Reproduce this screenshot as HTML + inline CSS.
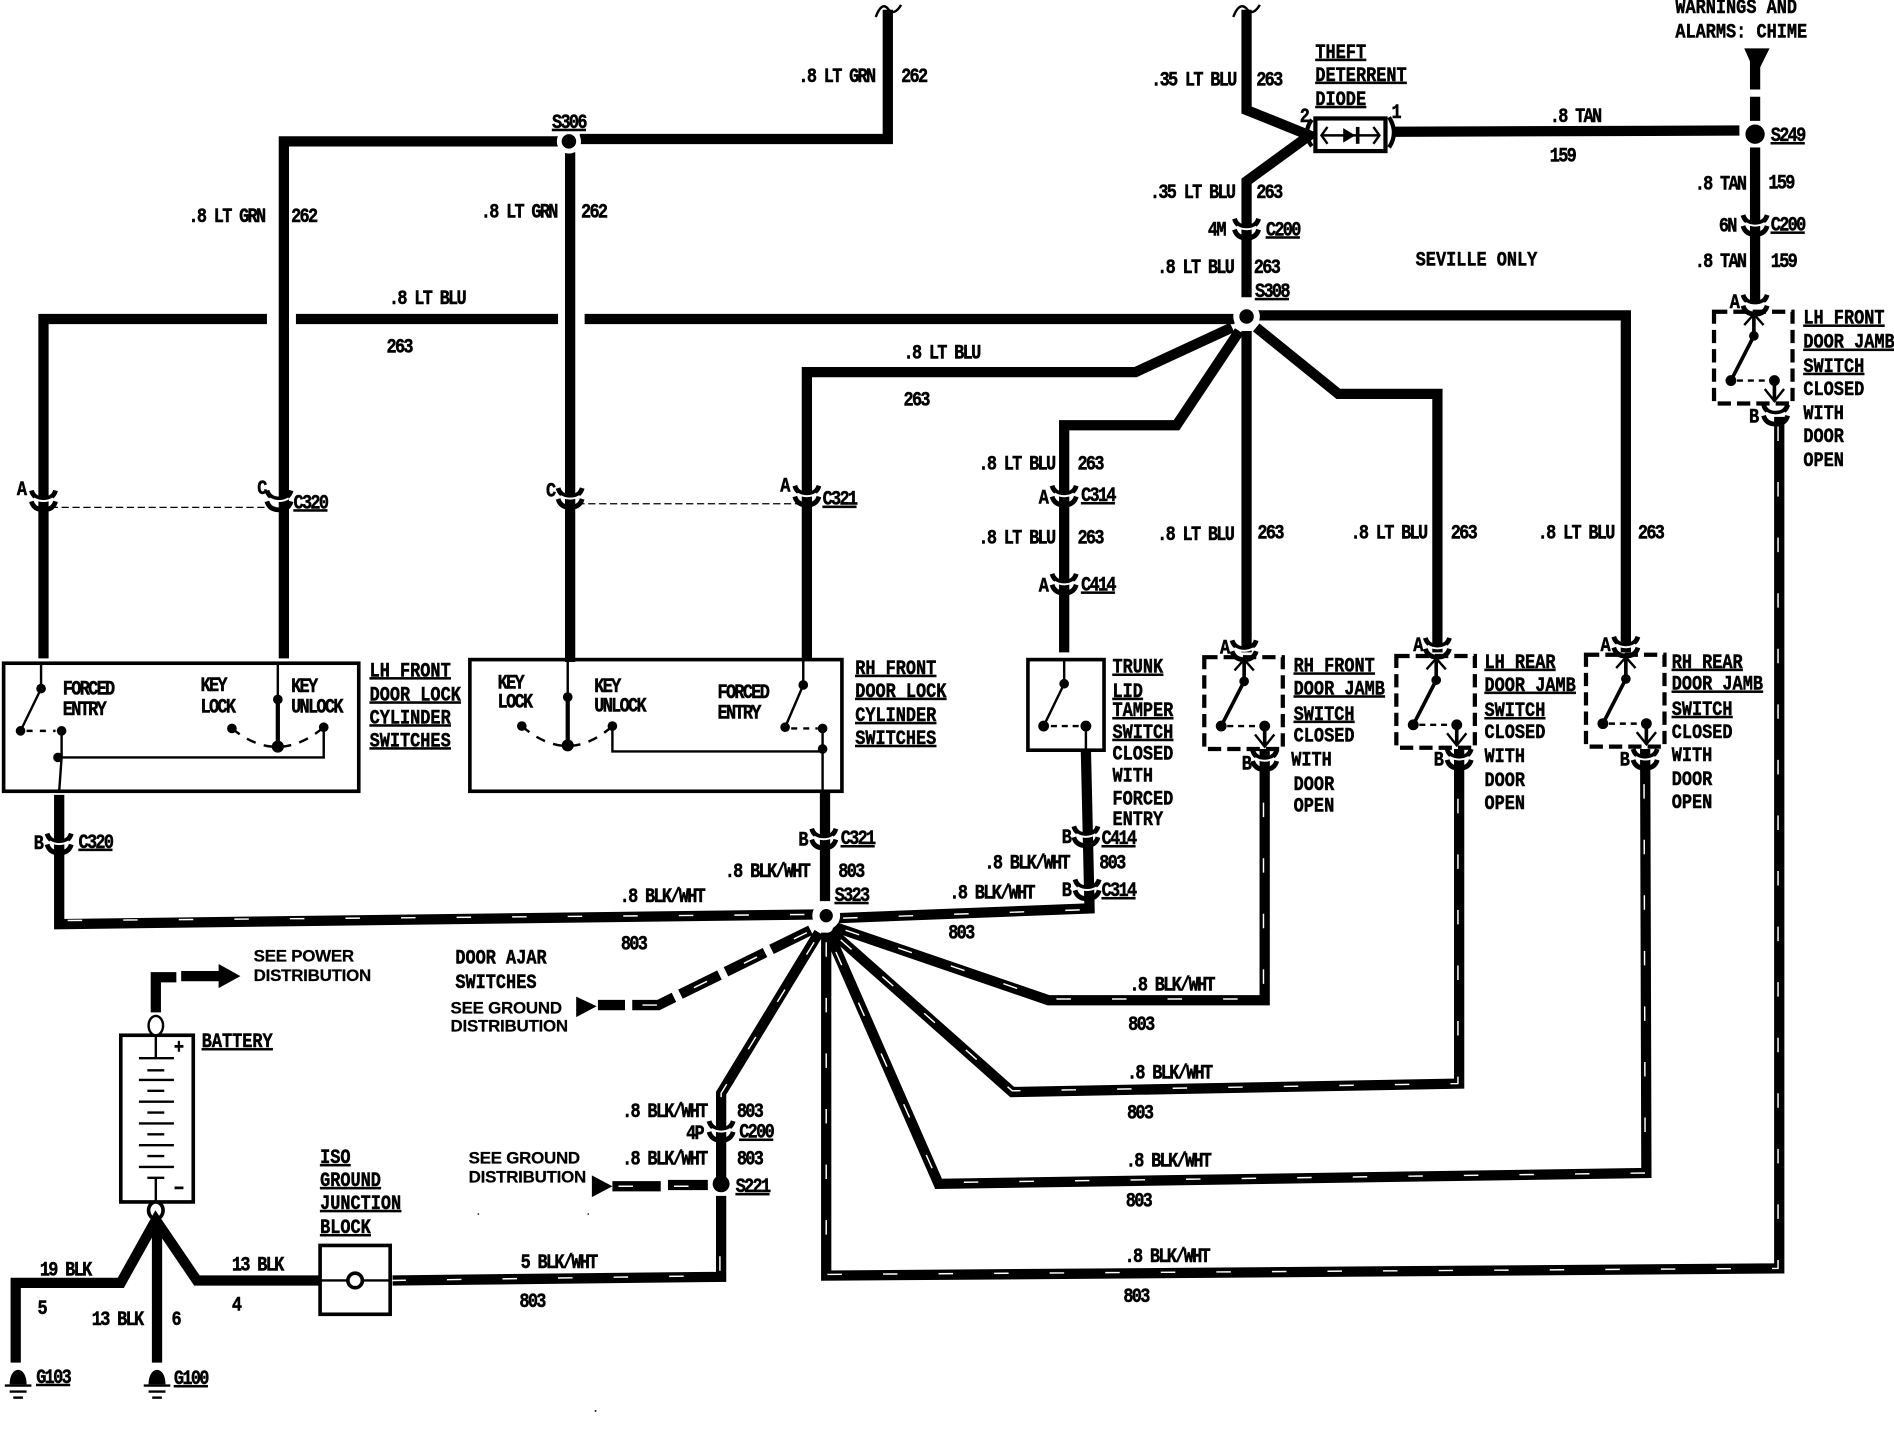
<!DOCTYPE html>
<html><head><meta charset="utf-8"><title>Wiring diagram</title>
<style>
html,body{margin:0;padding:0;background:#fff}
svg{display:block}
text{font-family:"Liberation Mono",monospace;font-weight:700;font-size:14px;letter-spacing:-1.4px;fill:#000;stroke:#000;stroke-width:.35;transform-box:fill-box;transform-origin:0 100%;transform:translateY(1.7px) scaleY(1.2)}
.L{letter-spacing:0}
.S{font-family:"Liberation Sans",sans-serif;letter-spacing:-.2px;font-size:14px;transform:none;stroke-width:.2}
.u{text-decoration:underline;text-underline-offset:2.5px;text-decoration-thickness:1.6px;text-decoration-skip-ink:none}
.w{fill:none;stroke:#000;stroke-width:8.5;stroke-linejoin:miter}
.t{fill:none;stroke:#fff;stroke-width:1.2;stroke-dasharray:12 34}
.n{fill:none;stroke:#000;stroke-width:2}
.b{fill:none;stroke:#000;stroke-width:3.5}
.d{fill:none;stroke:#000;stroke-width:2.5;stroke-dasharray:6 6}
</style></head><body>
<svg xmlns="http://www.w3.org/2000/svg" width="1894" height="1440" viewBox="0 0 1568 1192">
<defs>
<g id="c"><path d="M-10,-8 Q-8,-1 0,-1 Q8,-1 10,-8" fill="none" stroke="#000" stroke-width="4"/><path d="M-10,1 Q-8,8 0,8 Q8,8 10,1" fill="none" stroke="#000" stroke-width="4"/><path d="M-8,-1.5 Q0,3 8,-1.5" fill="none" stroke="#fff" stroke-width="1.6"/></g>
<g id="sw">
<rect x="0" y="0" width="65" height="76" fill="#fff" stroke="#000" stroke-width="3.5" stroke-dasharray="11 5"/>
<path d="M33,1V20L14,57M50,57V74" fill="none" stroke="#000" stroke-width="3"/>
<path class="n" d="M25,11L33,2L41,11M42,64L50,74L58,64"/>
<path d="M19,57H44" fill="none" stroke="#000" stroke-width="2" stroke-dasharray="5 4"/>
<circle cx="33" cy="20" r="4"/><circle cx="14" cy="57" r="4.5"/><circle cx="50" cy="57" r="4.5"/>
</g>
<g id="g"><path d="M-7,6 C-7,-10 7,-10 7,6 Z"/><path d="M-11,7H11" stroke="#000" stroke-width="2"/><path d="M-7,12H7" stroke="#000" stroke-width="2"/><path d="M-4,17H4" stroke="#000" stroke-width="2"/></g>
</defs>

<!-- GRN -->
<path class="w" d="M463,117H235V545"/>
<path class="w" d="M480,115H735V8"/>
<path class="w" d="M472,126V548"/>
<path class="n" d="M725,14Q730,1 735,7Q740,14 746,4" stroke-width="2.5"/>
<path class="n" d="M1021,14Q1026,1 1032,7Q1037,14 1043,4" stroke-width="2.5"/>
<circle cx="471" cy="117" r="8" stroke="#fff" stroke-width="4"/>

<!-- BLU -->
<path class="w" d="M36,545V264H221M245,264H462M484,264H1022"/>
<path class="w" d="M1040,261H1346V540"/>
<path class="w" d="M1020,271L940,308H668V545"/>
<path class="w" d="M1026,274L974,352H881V540"/>
<path class="w" d="M1032,274V540"/>
<path class="w" d="M1040,271L1108,326H1190V540"/>
<path class="w" d="M1032,8V91L1084,112L1032,150V246"/>
<circle cx="1032" cy="262" r="8.5" stroke="#fff" stroke-width="5"/>

<!-- TAN -->
<path class="w" d="M1155,109L1440,108"/>
<path class="w" d="M1453,100V80M1453,74V50"/>
<path d="M1444,40H1465L1456,58H1452Z"/>
<path class="w" d="M1453,122V252"/>
<circle cx="1453" cy="111" r="8"/>

<!-- connectors on the blue and tan runs -->
<g fill="#fff">
<use href="#c" x="36" y="414"/><use href="#c" x="231" y="414"/>
<use href="#c" x="472" y="412"/><use href="#c" x="668" y="410"/>
<use href="#c" x="881" y="410"/><use href="#c" x="881" y="483"/>
<use href="#c" x="1032" y="189"/><use href="#c" x="1453" y="186"/>
</g>
<path d="M42,420H228M478,417H665" fill="none" stroke="#000" stroke-width="1" stroke-dasharray="6 3"/>

<!-- diode -->
<rect x="1089" y="98" width="58" height="27" fill="#fff" stroke="#000" stroke-width="3.5"/>
<path class="n" d="M1094,112H1142M1099,105L1094,112L1099,119M1137,105L1142,112L1137,119"/>
<path d="M1112,106L1122,112L1112,118Z"/><path d="M1124,105V119" stroke="#000" stroke-width="3"/>
<path class="b" d="M1086,99Q1078,110 1086,121M1150,97Q1158,110 1150,122"/>

<!-- BLK/WHT wires -->
<g id="wires">
<path class="w" d="M49,658V765L674,757"/>
<path class="t" d="M56,762L672,757"/>
<path class="w" d="M683,655V746"/>
<path class="w" d="M694,760L902,752L899,622"/>
<path class="t" d="M698,760L900,753"/>
<path class="w" d="M690,767L868,828H1047V620"/>
<path class="t" d="M700,770L868,827H1046V628"/>
<path class="w" d="M688,771L838,904L1208,897V620"/>
<path class="t" d="M696,778L838,903L1207,897V628"/>
<path class="w" d="M686,772L777,980L1363,971L1362,620"/>
<path class="t" d="M692,788L777,979L1362,971L1361,628"/>
<path class="w" d="M684,772V1056L1473,1050V345"/>
<path class="t" d="M684,780V1055L1472,1050V345"/>
<path class="w" d="M671,770L545,832H495" stroke-dasharray="36 6"/>
<path class="t" d="M668,772L545,832H500"/>
<path class="w" d="M678,772L597,905V975"/>
<path class="t" d="M674,780L597,905V930"/>
<path class="w" d="M507,982H547M553,981H586"/>
<path class="t" d="M512,982H586"/>
<path class="w" d="M597,990V1057L325,1060"/>
<path class="t" d="M596,1040V1056L325,1060"/>
</g>
<path d="M477,825V842L494,833Z"/><path d="M490,973V991L507,982Z"/>
<circle cx="684" cy="758" r="8.5" stroke="#fff" stroke-width="6"/>
<circle cx="597" cy="980" r="7"/>
<g fill="#fff">
<use href="#c" x="49" y="698"/><use href="#c" x="682" y="694"/>
<use href="#c" x="899" y="692"/><use href="#c" x="900" y="736"/>
<use href="#c" x="597" y="936"/>
</g>

<!-- LH door lock -->
<rect x="3" y="549" width="294" height="106" fill="none" stroke="#000" stroke-width="3"/>
<path class="n" d="M34,549V570L17,605M51,605V627L49,655M48,627H268V602M230,549V618"/>
<path d="M230,580V618" stroke="#000" stroke-width="3.5"/>
<path d="M22,605H46" fill="none" stroke="#000" stroke-width="2" stroke-dasharray="5 6"/>
<path d="M192,603Q230,634 268,602" fill="none" stroke="#000" stroke-width="2" stroke-dasharray="8 7"/>
<g><circle cx="34" cy="570" r="4"/><circle cx="17" cy="605" r="4"/><circle cx="51" cy="605" r="4"/><circle cx="48" cy="627" r="4"/><circle cx="230" cy="579" r="4"/><circle cx="230" cy="618" r="5"/><circle cx="192" cy="603" r="4"/><circle cx="268" cy="602" r="4"/></g>

<!-- RH door lock -->
<rect x="389" y="546" width="308" height="109" fill="none" stroke="#000" stroke-width="3"/>
<path class="n" d="M470,546V617M665,546V567L650,602M681,603V655M507,601V622H681"/>
<path d="M470,578V617" stroke="#000" stroke-width="3.5"/>
<path d="M655,603H677" fill="none" stroke="#000" stroke-width="2" stroke-dasharray="5 5"/>
<path d="M432,601Q470,634 507,601" fill="none" stroke="#000" stroke-width="2" stroke-dasharray="8 7"/>
<g><circle cx="470" cy="577" r="4"/><circle cx="470" cy="617" r="5"/><circle cx="432" cy="601" r="4"/><circle cx="507" cy="601" r="4"/><circle cx="665" cy="567" r="4"/><circle cx="650" cy="602" r="4"/><circle cx="681" cy="603" r="4"/><circle cx="681" cy="620" r="4"/></g>

<!-- trunk switch -->
<rect x="851" y="546" width="63" height="75" fill="#fff" stroke="#000" stroke-width="3"/>
<path class="n" d="M881,546V566L864,601M899,601V622" stroke-width="2.5"/>
<path d="M870,601H894" fill="none" stroke="#000" stroke-width="2" stroke-dasharray="5 4"/>
<circle cx="881" cy="566" r="4"/><circle cx="864" cy="601" r="4.5"/><circle cx="899" cy="601" r="4.5"/>

<!-- door jamb switches -->
<use href="#sw" x="997" y="544"/><use href="#sw" x="1156" y="543"/><use href="#sw" x="1313" y="542"/><use href="#sw" x="1419" y="258"/>
<use href="#c" x="1030" y="538"/><use href="#c" x="1047" y="629"/>
<use href="#c" x="1190" y="536"/><use href="#c" x="1208" y="628"/>
<use href="#c" x="1346" y="535"/><use href="#c" x="1362" y="628"/>
<use href="#c" x="1453" y="252"/><use href="#c" x="1470" y="343"/>

<!-- battery -->
<rect x="100" y="857" width="60" height="138" fill="#fff" stroke="#000" stroke-width="3"/>
<path class="n" d="M129,856V876M115,876H144M122,886H136M115,894H144M122,903H136M115,912H144M122,921H136M115,930H144M122,939H136M115,948H144M122,957H136M115,966H144M122,975H136M129,975V995"/>
<text x="144" y="871">+</text><text x="144" y="988">−</text>
<ellipse cx="129" cy="849" rx="6" ry="8" fill="#fff" stroke="#000" stroke-width="2"/>
<ellipse cx="129" cy="1002" rx="6" ry="7" fill="#fff" stroke="#000" stroke-width="3"/>
<path class="w" d="M129,838V809H146"/>
<path class="w" d="M150,808H184"/><path d="M181,798L199,808L181,818Z"/>

<!-- ground tree -->
<path class="w" d="M13,1128V1062H100L129,1010L163,1060H265"/>
<path class="w" d="M130,1010V1128"/>
<use href="#g" x="15" y="1140"/><use href="#g" x="130" y="1140"/>

<!-- ISO block -->
<rect x="265" y="1031" width="58" height="57" fill="#fff" stroke="#000" stroke-width="3"/>
<path class="n" d="M265,1060H323"/>
<circle cx="294" cy="1060" r="6" fill="#fff" stroke="#000" stroke-width="3"/>

<!-- specks -->
<circle cx="396" cy="1005" r=".7"/><circle cx="487" cy="1005" r=".7"/><circle cx="493" cy="1168" r=".8"/>

<!-- labels -->
<text x="661" y="67">.8 LT GRN</text><text x="746" y="67">262</text>
<text x="156" y="183">.8 LT GRN</text><text x="241" y="183">262</text>
<text class="u" x="457" y="105">S306</text>
<text x="398" y="179">.8 LT GRN</text><text x="481" y="179">262</text>
<text x="322" y="251">.8 LT BLU</text><text x="320" y="291">263</text>
<text x="953" y="70">.35 LT BLU</text><text x="1040" y="70">263</text>
<text x="952" y="163">.35 LT BLU</text><text x="1040" y="163">263</text>
<text class="L u" x="1089" y="47">THEFT</text><text class="L u" x="1089" y="66">DETERRENT</text><text class="L u" x="1089" y="86">DIODE</text>
<text x="1076" y="100">2</text><text x="1152" y="97">1</text>
<text x="1283" y="100">.8 TAN</text><text x="1283" y="133">159</text>
<text class="L" x="1387" y="10">WARNINGS AND</text><text class="L" x="1387" y="30">ALARMS: CHIME</text>
<text class="u" x="1466" y="116">S249</text>
<text x="1403" y="156">.8 TAN</text><text x="1464" y="155">159</text>
<text x="1423" y="191">6N</text><text class="u" x="1466" y="190">C200</text>
<text x="1403" y="220">.8 TAN</text><text x="1466" y="220">159</text>
<text x="1000" y="194">4M</text><text class="u" x="1048" y="194">C200</text>
<text x="958" y="225">.8 LT BLU</text><text x="1038" y="225">263</text>
<text class="u" x="1039" y="245">S308</text>
<text class="L" x="1172" y="219">SEVILLE ONLY</text>
<text class="L u" x="1493" y="267">LH FRONT</text><text class="L u" x="1493" y="287">DOOR JAMB</text><text class="L u" x="1493" y="307">SWITCH</text><text class="L" x="1493" y="326">CLOSED</text><text class="L" x="1493" y="346">WITH</text><text class="L" x="1493" y="365">DOOR</text><text class="L" x="1493" y="385">OPEN</text>
<text x="1432" y="254">A</text><text x="1448" y="349">B</text>
<text x="748" y="296">.8 LT BLU</text><text x="748" y="335">263</text>
<text x="810" y="388">.8 LT BLU</text><text x="892" y="388">263</text>
<text x="860" y="416">A</text><text class="u" x="895" y="414">C314</text>
<text x="810" y="449">.8 LT BLU</text><text x="892" y="449">263</text>
<text x="860" y="489">A</text><text class="u" x="895" y="488">C414</text>
<text x="958" y="446">.8 LT BLU</text><text x="1041" y="445">263</text>
<text x="1118" y="445">.8 LT BLU</text><text x="1201" y="445">263</text>
<text x="1273" y="445">.8 LT BLU</text><text x="1356" y="445">263</text>
<text x="14" y="409">A</text><text x="213" y="408">C</text><text class="u" x="243" y="420">C320</text>
<text x="452" y="410">C</text><text x="646" y="406">A</text><text class="u" x="681" y="417">C321</text>
<text class="L u" x="306" y="559">LH FRONT</text><text class="L u" x="306" y="579">DOOR LOCK</text><text class="L u" x="306" y="598">CYLINDER</text><text class="L u" x="306" y="617">SWITCHES</text>
<text x="52" y="574">FORCED</text><text x="52" y="591">ENTRY</text><text x="166" y="571">KEY</text><text x="166" y="589">LOCK</text><text x="241" y="572">KEY</text><text x="241" y="589">UNLOCK</text>
<text x="412" y="569">KEY</text><text x="412" y="585">LOCK</text><text x="492" y="572">KEY</text><text x="492" y="588">UNLOCK</text><text x="594" y="577">FORCED</text><text x="594" y="594">ENTRY</text>
<text class="L u" x="708" y="557">RH FRONT</text><text class="L u" x="708" y="576">DOOR LOCK</text><text class="L u" x="708" y="596">CYLINDER</text><text class="L u" x="708" y="615">SWITCHES</text>
<text class="L u" x="921" y="556">TRUNK</text><text class="L u" x="921" y="576">LID</text><text class="L u" x="921" y="592">TAMPER</text><text class="L u" x="921" y="610">SWITCH</text><text class="L" x="921" y="628">CLOSED</text><text class="L" x="921" y="646">WITH</text><text class="L" x="921" y="665">FORCED</text><text class="L" x="921" y="682">ENTRY</text>
<text class="L u" x="1071" y="555">RH FRONT</text><text class="L u" x="1071" y="574">DOOR JAMB</text><text class="L u" x="1071" y="595">SWITCH</text><text class="L" x="1071" y="613">CLOSED</text><text class="L" x="1069" y="633">WITH</text><text class="L" x="1071" y="653">DOOR</text><text class="L" x="1071" y="671">OPEN</text>
<text x="1010" y="540">A</text><text x="1028" y="636">B</text>
<text class="L u" x="1229" y="552">LH REAR</text><text class="L u" x="1229" y="571">DOOR JAMB</text><text class="L u" x="1229" y="592">SWITCH</text><text class="L" x="1229" y="610">CLOSED</text><text class="L" x="1229" y="630">WITH</text><text class="L" x="1229" y="650">DOOR</text><text class="L" x="1229" y="669">OPEN</text>
<text x="1170" y="538">A</text><text x="1187" y="633">B</text>
<text class="L u" x="1384" y="552">RH REAR</text><text class="L u" x="1384" y="570">DOOR JAMB</text><text class="L u" x="1384" y="591">SWITCH</text><text class="L" x="1384" y="610">CLOSED</text><text class="L" x="1384" y="629">WITH</text><text class="L" x="1384" y="649">DOOR</text><text class="L" x="1384" y="668">OPEN</text>
<text x="1325" y="538">A</text><text x="1341" y="633">B</text>
<text x="28" y="702">B</text><text class="u" x="65" y="701">C320</text>
<text x="661" y="699">B</text><text class="u" x="696" y="698">C321</text>
<text x="600" y="725">.8 BLK/WHT</text><text x="694" y="725">803</text>
<text class="u" x="691" y="745">S323</text>
<text x="513" y="746">.8 BLK/WHT</text><text x="514" y="785">803</text>
<text x="786" y="743">.8 BLK/WHT</text><text x="785" y="776">803</text>
<text x="879" y="697">B</text><text class="u" x="912" y="698">C414</text>
<text x="815" y="718">.8 BLK/WHT</text><text x="910" y="718">803</text>
<text x="879" y="741">B</text><text class="u" x="912" y="741">C314</text>
<text x="935" y="819">.8 BLK/WHT</text><text x="934" y="852">803</text>
<text x="933" y="892">.8 BLK/WHT</text><text x="933" y="925">803</text>
<text x="932" y="965">.8 BLK/WHT</text><text x="932" y="998">803</text>
<text x="931" y="1044">.8 BLK/WHT</text><text x="930" y="1077">803</text>
<text class="S" x="210" y="796">SEE POWER</text><text class="S" x="210" y="812">DISTRIBUTION</text>
<text class="L u" x="167" y="866">BATTERY</text>
<text class="L" x="377" y="797">DOOR AJAR</text><text class="L" x="377" y="817">SWITCHES</text>
<text class="S" x="373" y="839">SEE GROUND</text><text class="S" x="373" y="854">DISTRIBUTION</text>
<text x="515" y="924">.8 BLK/WHT</text><text x="610" y="924">803</text>
<text x="568" y="942">4P</text><text class="u" x="612" y="941">C200</text>
<text x="515" y="963">.8 BLK/WHT</text><text x="610" y="963">803</text>
<text class="S" x="388" y="963">SEE GROUND</text><text class="S" x="388" y="979">DISTRIBUTION</text>
<text class="u" x="609" y="986">S221</text>
<text class="L u" x="265" y="962">ISO</text><text class="L u" x="265" y="981">GROUND</text><text class="L u" x="265" y="1000">JUNCTION</text><text class="L u" x="265" y="1020">BLOCK</text>
<text x="192" y="1051">13 BLK</text><text x="192" y="1084">4</text>
<text x="431" y="1049">5 BLK/WHT</text><text x="430" y="1081">803</text>
<text x="33" y="1055">19 BLK</text><text x="31" y="1087">5</text>
<text x="76" y="1096">13 BLK</text><text x="142" y="1096">6</text>
<text class="u" x="30" y="1144">G103</text><text class="u" x="144" y="1145">G100</text>
</svg>
</body></html>
